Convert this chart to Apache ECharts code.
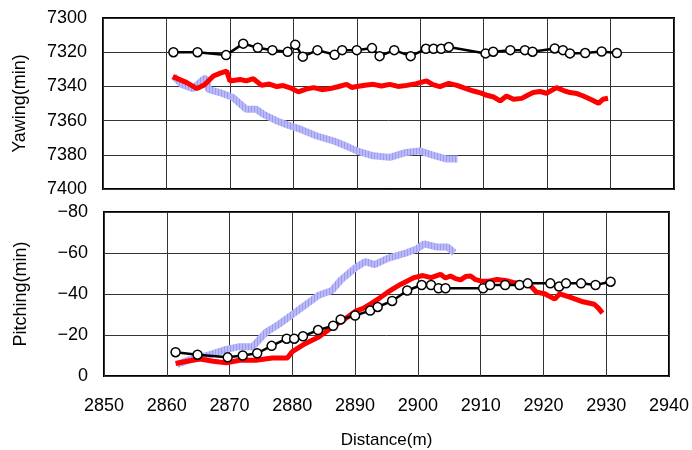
<!DOCTYPE html>
<html>
<head>
<meta charset="utf-8">
<script src="https://cdn.jsdelivr.net/npm/echarts@6/dist/echarts.min.js"></script>
<style>
  html, body { margin: 0; padding: 0; background: #fff; }
  #chart { width: 692px; height: 450px; }
</style>
</head>
<body>
<div id="chart"></div>
<script>
// x ticks
var distTicks = [2850, 2860, 2870, 2880, 2890, 2900, 2910, 2920, 2930, 2940];

// Yawing - black circles
var yawBlackX = [2861.1, 2864.9, 2869.4, 2872.1, 2874.4, 2876.7, 2879.1, 2880.3, 2881.5, 2883.8, 2886.5, 2887.7, 2890.0, 2892.4, 2893.6, 2895.9, 2898.5, 2900.9, 2902.1, 2903.3, 2904.5, 2910.3, 2911.5, 2914.2, 2916.5, 2917.7, 2921.2, 2922.5, 2923.6, 2926.0, 2928.6, 2931.0];
var yawBlackY = [7320, 7320, 7321.7, 7315, 7317.4, 7318.8, 7319.8, 7315.6, 7322.6, 7318.8, 7321.5, 7318.8, 7318.8, 7317.6, 7322.3, 7318.8, 7322.3, 7318, 7318, 7318, 7317, 7320.7, 7319.7, 7318.8, 7318.8, 7319.7, 7317.8, 7318.8, 7320.7, 7320.5, 7319.6, 7320.5];

// Yawing - red
var yawRedX = [2861.0, 2862.2, 2863.2, 2864.8, 2866.0, 2867.4, 2868.4, 2869.5, 2870.0, 2871.6, 2872.6, 2873.7, 2875.0, 2876.2, 2877.4, 2878.4, 2879.5, 2880.8, 2882.0, 2883.2, 2884.5, 2885.8, 2887.0, 2888.4, 2889.2, 2890.0, 2891.3, 2892.6, 2893.9, 2895.2, 2896.5, 2897.9, 2899.4, 2901.0, 2902.0, 2903.1, 2904.5, 2905.8, 2907.0, 2908.4, 2909.5, 2910.5, 2911.6, 2912.6, 2913.6, 2914.7, 2916.0, 2917.0, 2917.8, 2918.9, 2919.9, 2921.5, 2922.6, 2923.6, 2924.7, 2925.7, 2927.0, 2928.1, 2928.8, 2929.6];
var yawRedY = [7334.3, 7336.2, 7337.8, 7341.3, 7339, 7333.9, 7332.4, 7331, 7336.8, 7336, 7336.8, 7335.5, 7339.4, 7338.6, 7340.1, 7339.5, 7340.8, 7343.2, 7341.6, 7340.7, 7341.9, 7341.3, 7340.2, 7338.8, 7340.6, 7340.1, 7339.3, 7338.8, 7339.8, 7338.8, 7340.0, 7339.4, 7338.4, 7336.8, 7339.0, 7340.1, 7338.2, 7339.4, 7341.0, 7342.7, 7343.8, 7345.2, 7346.2, 7348.5, 7345.6, 7347.5, 7347, 7345.0, 7343.6, 7343.0, 7344, 7340.7, 7342.4, 7343.6, 7344.2, 7345.6, 7347.8, 7349.9, 7347.5, 7346.9];

// Yawing - blue
var yawBlueX = [2861.1, 2862.4, 2864.2, 2865.8, 2866.3, 2866.6, 2868.4, 2870.5, 2872.6, 2874.2, 2875.3, 2877.4, 2879.5, 2881.1, 2883.7, 2886.3, 2888.7, 2890.0, 2892.6, 2895.2, 2897.8, 2899.9, 2902.1, 2904.2, 2905.9];
var yawBlueY = [7334, 7338.8, 7341.3, 7335.9, 7335, 7341.7, 7343.6, 7346.5, 7353.4, 7353.4, 7356.3, 7360.2, 7363.1, 7365, 7369, 7371.8, 7375.5, 7377.7, 7380.6, 7381.5, 7378.6, 7377.7, 7380.3, 7382.5, 7382.5];

// Pitching - black circles
var pitBlackX = [2861.4, 2864.9, 2869.7, 2872.1, 2874.4, 2876.7, 2879.1, 2880.3, 2881.7, 2884.1, 2886.5, 2887.7, 2890.0, 2892.4, 2893.6, 2895.9, 2898.3, 2900.6, 2902.1, 2903.3, 2904.4, 2910.4, 2911.5, 2913.9, 2916.2, 2917.5, 2921.1, 2922.5, 2923.6, 2926.0, 2928.3, 2930.7];
var pitBlackY = [-11.6, -10.4, -9.1, -10, -11.1, -14.7, -18.2, -18.2, -19.4, -22.4, -24.5, -27.6, -29.5, -31.9, -33.7, -36.6, -41.7, -44.4, -44.4, -42.8, -42.8, -42.8, -44.4, -44.4, -44.4, -45.2, -45.2, -43.6, -45.2, -45.2, -44.4, -46];

// Pitching - red
var pitRedX = [2861.4, 2863.2, 2865.3, 2867.4, 2869.5, 2871.6, 2874.2, 2876.8, 2879.2, 2880.0, 2882.1, 2884.2, 2886.3, 2888.0, 2890.0, 2891.3, 2892.6, 2893.9, 2895.2, 2896.3, 2897.3, 2898.4, 2899.4, 2900.8, 2902.1, 2903.6, 2904.4, 2905.2, 2906.0, 2906.8, 2907.6, 2908.4, 2909.2, 2910.0, 2911.3, 2912.6, 2913.9, 2915.2, 2916.5, 2917.9, 2918.9, 2920.2, 2921.8, 2922.6, 2924.1, 2925.2, 2926.3, 2927.2, 2928.1, 2928.8, 2929.4];
var pitRedY = [-6.1, -7.2, -8.3, -7.2, -6.4, -7.7, -7.7, -8.8, -8.8, -11.9, -15.9, -19, -23.7, -27, -31.5, -33.0, -35.4, -38.0, -40.9, -43.0, -44.8, -46.5, -48, -49.0, -48, -49.6, -47.8, -48.8, -47.5, -46.9, -48.5, -48.8, -47.0, -46.4, -46.2, -47.1, -46.6, -45.6, -45.0, -44.1, -40.9, -40.1, -37.5, -40.1, -38.6, -37.4, -36.2, -35.6, -35, -33.0, -30.7];

// Pitching - blue
var pitBlueX = [2861.6, 2863.7, 2866.9, 2869.5, 2871.6, 2873.7, 2875.8, 2877.9, 2880.0, 2882.1, 2884.2, 2886.3, 2887.8, 2890.0, 2891.6, 2893.1, 2895.2, 2897.9, 2899.9, 2901.0, 2903.1, 2904.7, 2905.8];
var pitBlueY = [-5.6, -8, -10.4, -13, -14.3, -14.3, -21.3, -25.3, -30, -34.7, -39.4, -41.7, -47, -52.7, -55.8, -54.3, -57.4, -59.8, -62.1, -64.5, -62.9, -62.9, -60.1];

function pairs(xs, ys) {
  return xs.map(function (x, i) { return [x, ys[i]]; });
}

// striped lavender fill for the blue trace
var stripe = document.createElement("canvas");
stripe.width = 3;
stripe.height = 1;
var sctx = stripe.getContext("2d");
sctx.fillStyle = "#babafa";
sctx.fillRect(0, 0, 3, 1);
sctx.fillStyle = "#9c9cee";
sctx.fillRect(2, 0, 1, 1);

var font = "Liberation Sans";
var chart = echarts.init(document.getElementById("chart"));

function xAxis(idx, withLabels) {
  return {
    type: "value",
    gridIndex: idx,
    min: distTicks[0],
    max: distTicks[distTicks.length - 1],
    interval: 10,
    axisLine: { show: false },
    axisTick: { show: false },
    axisLabel: {
      show: withLabels, color: "#000", fontFamily: font, fontSize: 18, margin: 21,
      formatter: function (v) { return String(v); }
    },
    splitLine: { show: true, lineStyle: { color: "#333", width: 1 } },
    name: withLabels ? "Distance(m)" : "",
    nameLocation: "middle",
    nameGap: 56,
    nameTextStyle: { color: "#000", fontFamily: font, fontSize: 17 }
  };
}

function yAxis(idx, min, max, name) {
  return {
    type: "value",
    gridIndex: idx,
    min: min,
    max: max,
    interval: 20,
    inverse: true,
    axisLine: { show: false },
    axisTick: { show: false },
    axisLabel: {
      color: "#000", fontFamily: font, fontSize: 18, margin: 16,
      formatter: function (v) { return String(v).replace("-", "\u2212"); }
    },
    splitLine: { show: true, lineStyle: { color: "#333", width: 1 } },
    name: name,
    nameLocation: "middle",
    nameGap: 74,
    nameRotate: 90,
    nameTextStyle: { color: "#000", fontFamily: font, fontSize: 18 }
  };
}

function blue(xi, data) {
  return {
    type: "line", xAxisIndex: xi, yAxisIndex: xi, data: data,
    showSymbol: false, z: 2,
    lineStyle: { color: { image: stripe, repeat: "repeat" }, width: 7 }
  };
}
function red(xi, data) {
  return {
    type: "line", xAxisIndex: xi, yAxisIndex: xi, data: data,
    showSymbol: false, z: 3,
    lineStyle: { color: "#ff0000", width: 5 }
  };
}
function black(xi, data) {
  return {
    type: "line", xAxisIndex: xi, yAxisIndex: xi, data: data,
    symbol: "circle", symbolSize: 9, z: 4,
    lineStyle: { color: "#000", width: 2.5 },
    itemStyle: { color: "#fff", borderColor: "#000", borderWidth: 1.5 }
  };
}

chart.setOption({
  animation: false,
  grid: [
    { left: 103, top: 18, width: 571, height: 171, show: true, borderColor: "#000", borderWidth: 2, backgroundColor: "transparent" },
    { left: 104, top: 212, width: 570, height: 170, show: true, borderColor: "#000", borderWidth: 2, backgroundColor: "transparent" }
  ],
  xAxis: [xAxis(0, false), xAxis(1, true)],
  yAxis: [yAxis(0, 7300, 7400, "Yawing(min)"), yAxis(1, -80, 0, "Pitching(min)")],
  series: [
    blue(0, pairs(yawBlueX, yawBlueY)),
    red(0, pairs(yawRedX, yawRedY)),
    black(0, pairs(yawBlackX, yawBlackY)),
    blue(1, pairs(pitBlueX, pitBlueY)),
    red(1, pairs(pitRedX, pitRedY)),
    black(1, pairs(pitBlackX, pitBlackY))
  ]
});
</script>
</body>
</html>
